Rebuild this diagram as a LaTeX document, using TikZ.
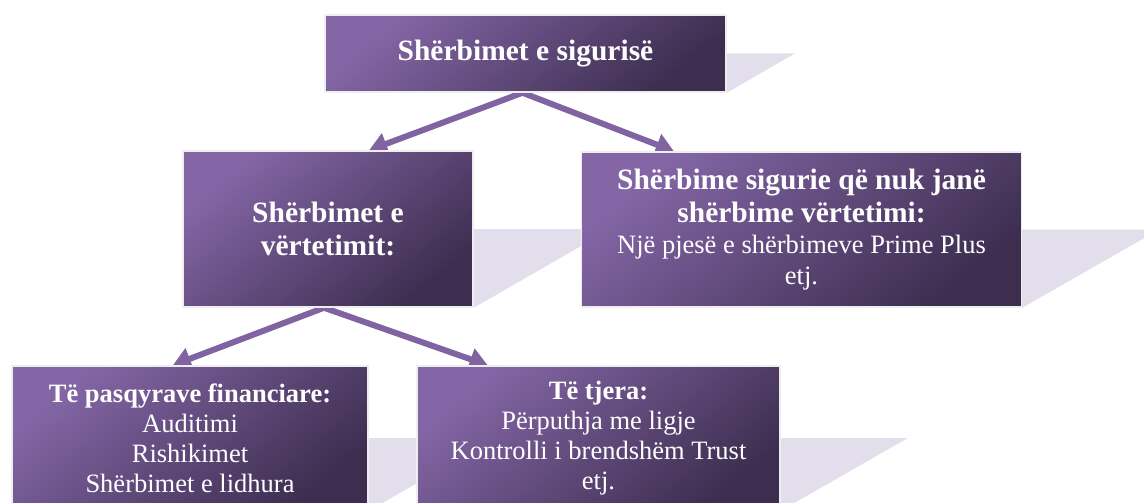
\documentclass[tikz,border=0pt]{standalone}
\usepackage{fontspec}
\setmainfont{Liberation Serif}
\usetikzlibrary{arrows.meta,calc,backgrounds}
\definecolor{boxlight}{HTML}{8466A6}
\definecolor{boxdark}{HTML}{3D2E50}
\definecolor{shadowc}{HTML}{E3DEEB}
\definecolor{arrowc}{HTML}{8064A2}
\definecolor{edgec}{HTML}{EEEEEE}
\tikzset{
  box/.style={rectangle, draw=edgec, line width=1.5pt,
    top color=boxlight, bottom color=boxdark, shading angle=40,
    text=white, align=center, inner sep=0pt,
    font=\fontsize{26.5}{30}\selectfont},
  conn/.style={draw=arrowc, line width=6pt,
    -{Triangle[length=18pt,width=22pt]}},
  shadowpoly/.style={fill=shadowc},
}
\newcommand{\bt}[1]{{\bfseries\fontsize{29.5}{34}\selectfont #1}}
\newcommand{\btsmall}[1]{{\bfseries\fontsize{26.5}{30}\selectfont #1}}
\begin{document}
\begin{tikzpicture}[x=1pt,y=-1pt]
\useasboundingbox (0,0) rectangle (1144,503);
\clip (0,0) rectangle (1144,503);

\node[box, minimum width=401pt, minimum height=77pt] (b1) at (525.5,53.5)
  {\bt{Shërbimet e sigurisë}};
\node[box, minimum width=290pt, minimum height=156pt] (b2) at (328,229)
  {\bt{Shërbimet e}\\[3pt] \bt{vërtetimit:}};
\node[box, minimum width=440pt, minimum height=155pt, font=\fontsize{26.5}{31}\selectfont] (b3) at (801.5,229.5)
  {\bt{Shërbime sigurie që nuk janë}\\[2pt] \bt{shërbime vërtetimi:}\\ Një pjesë e shërbimeve Prime Plus\\ etj.};
\node[box, minimum width=356pt, minimum height=144pt] (b4) at (190,438)
  {\btsmall{Të pasqyrave financiare:}\\ Auditimi\\ Rishikimet\\ Shërbimet e lidhura};
\node[box, minimum width=363pt, minimum height=144pt] (b5) at (598.5,438)
  {\btsmall{Të tjera:}\\ Përputhja me ligje\\ Kontrolli i brendshëm Trust\\ etj.};

\begin{scope}[on background layer]
  \clip (0,0) rectangle (1144,503);
  \fill[shadowpoly] (b1.west) -- ([xshift=68pt]b1.east) -- (b1.south east) -- (b1.south west) -- cycle;
  \fill[shadowpoly] (b2.west) -- ([xshift=137pt]b2.east) -- (b2.south east) -- (b2.south west) -- cycle;
  \fill[shadowpoly] (b3.west) -- ([xshift=137pt]b3.east) -- (b3.south east) -- (b3.south west) -- cycle;
  \fill[shadowpoly] (b4.west) -- ([xshift=127pt]b4.east) -- (b4.south east) -- (b4.south west) -- cycle;
  \fill[shadowpoly] (b5.west) -- ([xshift=127pt]b5.east) -- (b5.south east) -- (b5.south west) -- cycle;
  \draw[conn] ([xshift=-3pt]b1.south) -- ($(b2.north west)!0.641!(b2.north east)$);
  \draw[conn] ([xshift=-3pt]b1.south) -- ($(b3.north west)!0.211!(b3.north east)$);
  \draw[conn] ([xshift=-4pt]b2.south) -- ($(b4.north west)!0.452!(b4.north east)$);
  \draw[conn] ([xshift=-4pt]b2.south) -- ($(b5.north west)!0.196!(b5.north east)$);
\end{scope}
\end{tikzpicture}
\end{document}
